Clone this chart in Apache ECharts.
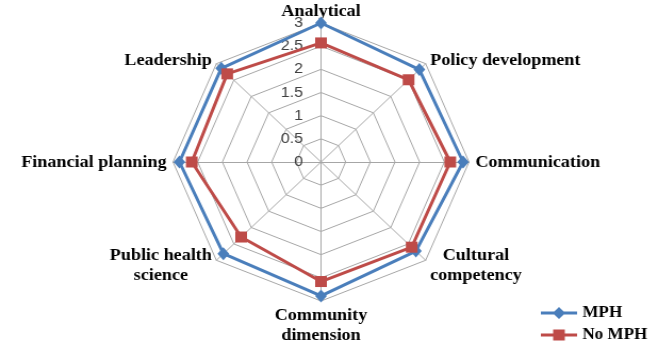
<!DOCTYPE html>
<html><head><meta charset="utf-8">
<script src="https://cdn.jsdelivr.net/npm/echarts@6/dist/echarts.min.js"></script>
<style>
html,body{margin:0;padding:0;background:#fff;overflow:hidden;}
#c{width:626px;height:354px;transform:scaleX(1.0647);transform-origin:0 0;}
</style></head>
<body><div id="c"></div>
<script>
const categories = ['Analytical','Leadership','Financial planning','Public health\nscience','Community\ndimension','Cultural\ncompetency','Communication','Policy development'];
const mphValues   = [3.0, 2.86, 2.87, 2.80, 2.89, 2.72, 2.88, 2.82];
const noMphValues = [2.57, 2.69, 2.62, 2.29, 2.58, 2.60, 2.62, 2.51];
const seriesNames = ['MPH','No MPH'];
const axisMax = 3;

const blue = '#4a7ebb', red = '#be4b48';
const nameFont = {fontFamily:'Liberation Serif', fontWeight:'bold', fontSize:17, color:'#000'};

const chart = echarts.init(document.getElementById('c'));
const indicator = categories.map((n,i)=>{
  const o = {name:n, min:0, max:axisMax, nameMoveOverlap:false};
  if(i===0) o.axisLabel = {show:true};
  return o;
});
chart.setOption({
  animation:false,
  legend:{
    orient:'vertical', left:503, top:300, itemGap:6, itemWidth:34, itemHeight:12,
    textStyle:{fontFamily:'Liberation Serif', fontWeight:'bold', fontSize:16, color:'#000'},
    data:[
      {name:seriesNames[0], icon:'path://M0,4.5L34,4.5L34,7.5L0,7.5Z M17,0L23,6L17,12L11,6Z'},
      {name:seriesNames[1], icon:'path://M0,4.5L34,4.5L34,7.5L0,7.5Z M11.5,0.5L22.5,0.5L22.5,11.5L11.5,11.5Z M17,0L17,12'}
    ]
  },
  radar:{
    center:[301.5,162], radius:139, startAngle:90, shape:'polygon', splitNumber:6,
    nameMoveOverlap:false,
    axisName:{
      ...nameFont,
      padding:[-1,0,-3,0],
      formatter:(name)=> name.indexOf('\n')>=0
        ? name.split('\n').map(s=>'{m|'+s+'}').join('\n')
        : name,
      rich:{
        m:{...nameFont, lineHeight:20, align:'center'}
      }
    },
    nameGap:6,
    splitLine:{lineStyle:{color:'#a6a6a6', width:1}},
    splitArea:{show:false},
    axisLine:{lineStyle:{color:'#a6a6a6', width:1}},
    axisTick:{show:false},
    axisLabel:{show:false, fontFamily:'Liberation Sans', fontSize:15, color:'#404040', margin:17},
    indicator:indicator
  },
  series:[{
    type:'radar',
    data:[
      {name:seriesNames[0], value:mphValues, symbol:'diamond', symbolSize:[11,13],
       itemStyle:{color:blue}, lineStyle:{color:blue, width:3}},
      {name:seriesNames[1], value:noMphValues, symbol:'rect', symbolSize:11,
       itemStyle:{color:red}, lineStyle:{color:red, width:3}}
    ]
  }]
});
</script></body></html>
